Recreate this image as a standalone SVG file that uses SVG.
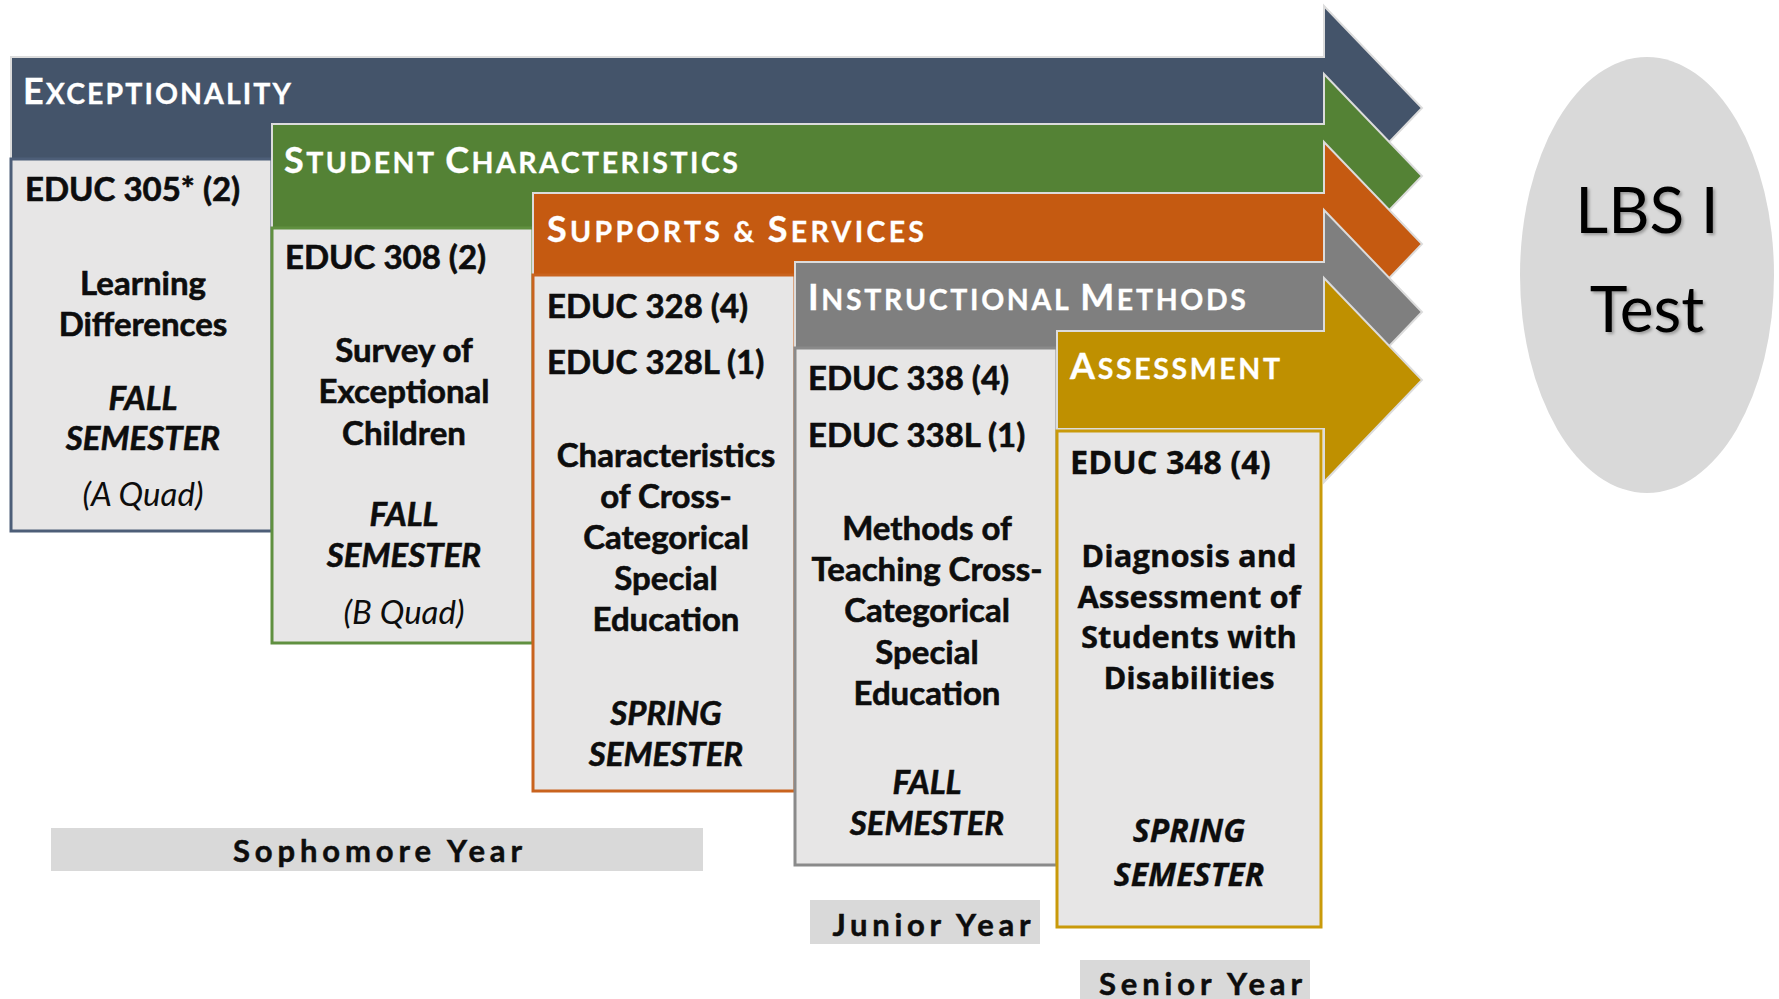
<svg xmlns="http://www.w3.org/2000/svg" width="1779" height="999" viewBox="0 0 1779 999">
<defs>
<style>
.arrow{stroke:#dcdcdc;stroke-width:2;stroke-linejoin:miter}
.box{fill:#e7e6e6;stroke-width:3}
.hd{font-family:Lato,"Open Sans","Liberation Sans",sans-serif;font-weight:700;font-size:28.5px;fill:#fff;letter-spacing:2px;stroke:#fff;stroke-width:0.3px}
.big{font-size:36px}
.t{font-family:Lato,"Open Sans","Liberation Sans",sans-serif;font-weight:700;font-size:33px;fill:#0d0d0d;stroke:#0d0d0d;stroke-width:0.6px}
.o{font-family:"Open Sans",Lato,"Liberation Sans",sans-serif;font-size:31px;stroke-width:0.3px}
.o2{font-size:32.5px}
.o3{font-size:32px}
.c{text-anchor:middle}
.bi{font-style:italic}
.it{font-style:italic;font-weight:400;stroke-width:0}
.yr{fill:#d9d9d9}
.yt{font-family:Lato,"Open Sans","Liberation Sans",sans-serif;font-weight:700;font-size:31px;fill:#0d0d0d;stroke:#0d0d0d;stroke-width:0.5px;letter-spacing:3px;text-anchor:middle}
.lbs{font-family:Lato,"Open Sans","Liberation Sans",sans-serif;font-weight:400;font-size:64px;fill:#000;text-anchor:middle}
</style>
<filter id="sh" x="-10%" y="-10%" width="130%" height="130%">
<feDropShadow dx="2" dy="2" stdDeviation="1.5" flood-color="#000" flood-opacity="0.3"/>
</filter>
</defs>
<rect width="1779" height="999" fill="#fff"/>

<g id="exceptionality">
<path class="arrow" fill="#44546a" d="M11,57 H1324 V6 L1422,108 L1324,210 V159 H11 Z"/>
<rect class="box" x="11" y="159" width="261" height="372" stroke="#4d5e78"/>
<text class="hd" x="23" y="104" textLength="270"><tspan class="big">E</tspan>XCEPTIONALITY</text>
<text class="t" x="25" y="201">EDUC 305* (2)</text>
<text class="t c" x="143" y="295">Learning</text>
<text class="t c" x="143" y="336">Differences</text>
<text class="t c bi" x="143" y="410">FALL</text>
<text class="t c bi" x="143" y="450">SEMESTER</text>
<text class="t c it" x="143" y="506">(A Quad)</text>
</g>

<g id="student-characteristics">
<path class="arrow" fill="#548235" d="M272,124 H1324 V74 L1422,176 L1324,278 V228 H272 Z"/>
<rect class="box" x="272" y="228" width="261" height="415" stroke="#609040"/>
<text class="hd" x="284" y="173" textLength="456"><tspan class="big">S</tspan>TUDENT <tspan class="big">C</tspan>HARACTERISTICS</text>
<text class="t" x="285" y="269">EDUC 308 (2)</text>
<text class="t c" x="404" y="362">Survey of</text>
<text class="t c" x="404" y="403">Exceptional</text>
<text class="t c" x="404" y="445">Children</text>
<text class="t c bi" x="404" y="526">FALL</text>
<text class="t c bi" x="404" y="567">SEMESTER</text>
<text class="t c it" x="404" y="624">(B Quad)</text>
</g>

<g id="supports-services">
<path class="arrow" fill="#c55a11" d="M533,193 H1324 V142 L1422,244 L1324,346 V295 H533 Z"/>
<rect class="box" x="533" y="275" width="262" height="516" stroke="#c9631e"/>
<text class="hd" x="547" y="242" textLength="379"><tspan class="big">S</tspan>UPPORTS &amp; <tspan class="big">S</tspan>ERVICES</text>
<text class="t" x="547" y="318">EDUC 328 (4)</text>
<text class="t" x="547" y="374">EDUC 328L (1)</text>
<text class="t c" x="666" y="467">Characteristics</text>
<text class="t c" x="666" y="508">of Cross-</text>
<text class="t c" x="666" y="549">Categorical</text>
<text class="t c" x="666" y="590">Special</text>
<text class="t c" x="666" y="631">Education</text>
<text class="t c bi" x="666" y="725">SPRING</text>
<text class="t c bi" x="666" y="766">SEMESTER</text>
</g>

<g id="instructional-methods">
<path class="arrow" fill="#7f7f7f" d="M795,262 H1324 V210 L1422,312 L1324,414 V362 H795 Z"/>
<rect class="box" x="795" y="348" width="262" height="517" stroke="#8a8a8a"/>
<text class="hd" x="808" y="310" textLength="440"><tspan class="big">I</tspan>NSTRUCTIONAL <tspan class="big">M</tspan>ETHODS</text>
<text class="t" x="808" y="390">EDUC 338 (4)</text>
<text class="t" x="808" y="447">EDUC 338L (1)</text>
<text class="t c" x="927" y="540">Methods of</text>
<text class="t c" x="927" y="581">Teaching Cross-</text>
<text class="t c" x="927" y="622">Categorical</text>
<text class="t c" x="927" y="664">Special</text>
<text class="t c" x="927" y="705">Education</text>
<text class="t c bi" x="927" y="794">FALL</text>
<text class="t c bi" x="927" y="835">SEMESTER</text>
</g>

<g id="assessment">
<path class="arrow" fill="#bf9000" d="M1057,331 H1324 V278 L1422,380 L1324,482 V429 H1057 Z"/>
<rect class="box" x="1057" y="431" width="264" height="496" stroke="#c99a0a"/>
<text class="hd" x="1070" y="379" textLength="212"><tspan class="big">A</tspan>SSESSMENT</text>
<text class="t o o2" x="1070" y="474">EDUC 348 (4)</text>
<text class="t o c" x="1189" y="567">Diagnosis and</text>
<text class="t o c" x="1189" y="608">Assessment of</text>
<text class="t o c" x="1189" y="648">Students with</text>
<text class="t o c" x="1189" y="689">Disabilities</text>
<text class="t o o3 c bi" x="1189" y="842">SPRING</text>
<text class="t o o3 c bi" x="1189" y="886">SEMESTER</text>
</g>

<g id="lbs-test">
<ellipse cx="1647" cy="275" rx="127" ry="218" fill="#d9d9d9"/>
<text class="lbs" x="1647" y="233" filter="url(#sh)">LBS I</text>
<text class="lbs" x="1647" y="332" filter="url(#sh)">Test</text>
</g>

<g id="sophomore-year">
<rect class="yr" x="51" y="828" width="652" height="43"/>
<text class="yt" x="379" y="862" textLength="292">Sophomore Year</text>
</g>
<g id="junior-year">
<rect class="yr" x="810" y="900" width="230" height="44"/>
<text class="yt" x="933" y="936" textLength="201">Junior Year</text>
</g>
<g id="senior-year">
<rect class="yr" x="1080" y="960" width="230" height="39"/>
<text class="yt" x="1202" y="995" textLength="206">Senior Year</text>
</g>

<g id="connectors"></g>
</svg>
